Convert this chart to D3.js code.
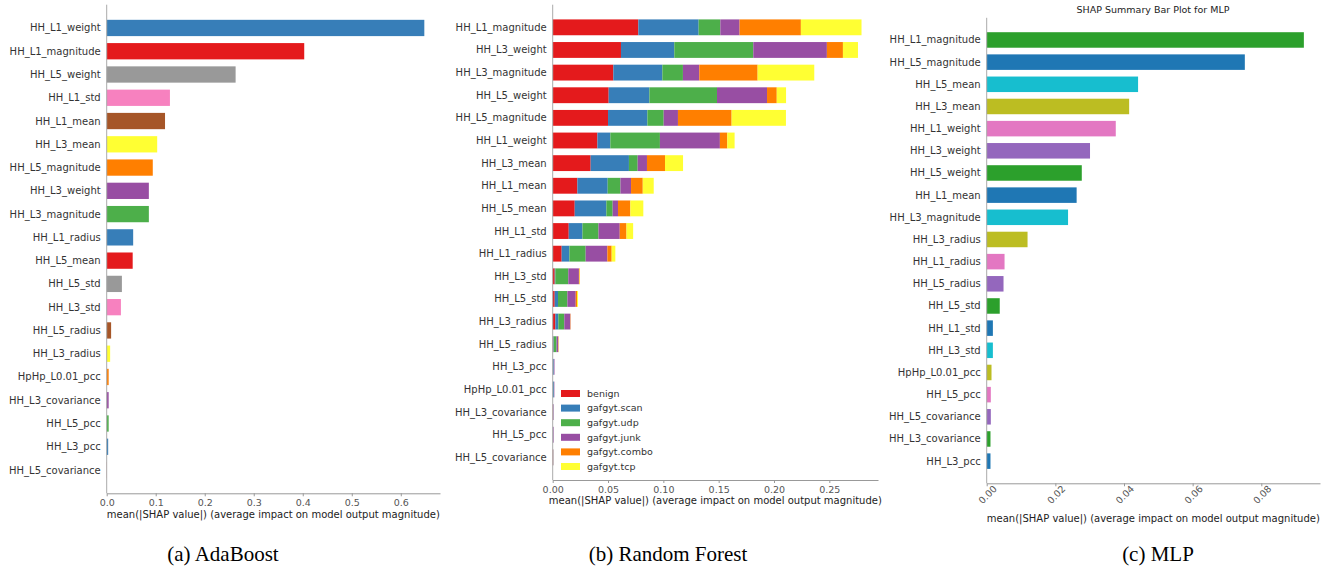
<!DOCTYPE html>
<html>
<head>
<meta charset="utf-8">
<script src="https://cdn.jsdelivr.net/npm/d3@7"></script>
<style>
  body { margin: 0; background: #fff; }
  svg { display: block; font-family: "DejaVu Sans", sans-serif; }
</style>
</head>
<body>
<svg id="chart" width="1337" height="571"></svg>
<script>
// ---------------- data ----------------
const featuresA = ["HH_L1_weight", "HH_L1_magnitude", "HH_L5_weight", "HH_L1_std", "HH_L1_mean",
  "HH_L3_mean", "HH_L5_magnitude", "HH_L3_weight", "HH_L3_magnitude", "HH_L1_radius",
  "HH_L5_mean", "HH_L5_std", "HH_L3_std", "HH_L5_radius", "HH_L3_radius",
  "HpHp_L0.01_pcc", "HH_L3_covariance", "HH_L5_pcc", "HH_L3_pcc", "HH_L5_covariance"];
const valuesA = [0.648, 0.403, 0.263, 0.129, 0.119, 0.103, 0.094, 0.086, 0.086, 0.054,
  0.053, 0.031, 0.029, 0.009, 0.007, 0.004, 0.004, 0.004, 0.003, 0.0003];
const ticksA = [0, 0.1, 0.2, 0.3, 0.4, 0.5, 0.6];

const featuresB = ["HH_L1_magnitude", "HH_L3_weight", "HH_L3_magnitude", "HH_L5_weight", "HH_L5_magnitude",
  "HH_L1_weight", "HH_L3_mean", "HH_L1_mean", "HH_L5_mean", "HH_L1_std",
  "HH_L1_radius", "HH_L3_std", "HH_L5_std", "HH_L3_radius", "HH_L5_radius",
  "HH_L3_pcc", "HpHp_L0.01_pcc", "HH_L3_covariance", "HH_L5_pcc", "HH_L5_covariance"];
const classesB = ["benign", "gafgyt.scan", "gafgyt.udp", "gafgyt.junk", "gafgyt.combo", "gafgyt.tcp"];
const benign = [0.0774, 0.0617, 0.0548, 0.0506, 0.0500, 0.0404, 0.0343, 0.0223, 0.0199, 0.0145,
  0.0081, 0.0018, 0.0018, 0.0024, 0.0005, 0.0001, 0.0001, 0.0003, 0.0001, 0.0004];
const scan = [0.0545, 0.0482, 0.0443, 0.0368, 0.0356, 0.0117, 0.0346, 0.0274, 0.0286, 0.0124,
  0.0070, 0.0006, 0.0030, 0.0027, 0.0005, 0.0008, 0.0009, 0.0001, 0.0002, 0.0001];
const udp = [0.0196, 0.0714, 0.0186, 0.0611, 0.0147, 0.0448, 0.0079, 0.0115, 0.0057, 0.0145,
  0.0147, 0.0117, 0.0085, 0.0054, 0.0025, 0.0001, 0.0001, 0.0001, 0.0001, 0.0001];
const junk = [0.0174, 0.0665, 0.0148, 0.0452, 0.0129, 0.0542, 0.0084, 0.0096, 0.0048, 0.0192,
  0.0196, 0.0096, 0.0075, 0.0054, 0.0015, 0.0006, 0.0004, 0.0004, 0.0005, 0.0001];
const combo = [0.0554, 0.0145, 0.0527, 0.0088, 0.0485, 0.0067, 0.0163, 0.0106, 0.0112, 0.0061,
  0.0039, 0.0006, 0.0012, 0.0003, 0.0003, 0, 0, 0, 0, 0];
const tcp = [0.0548, 0.0136, 0.0512, 0.0084, 0.0491, 0.0066, 0.0163, 0.0099, 0.0117, 0.0060,
  0.0033, 0.0003, 0.0009, 0, 0.0001, 0, 0, 0, 0, 0];
const ticksB = [0, 0.05, 0.10, 0.15, 0.20, 0.25];

const featuresC = ["HH_L1_magnitude", "HH_L5_magnitude", "HH_L5_mean", "HH_L3_mean", "HH_L1_weight",
  "HH_L3_weight", "HH_L5_weight", "HH_L1_mean", "HH_L3_magnitude", "HH_L3_radius",
  "HH_L1_radius", "HH_L5_radius", "HH_L5_std", "HH_L1_std", "HH_L3_std",
  "HpHp_L0.01_pcc", "HH_L5_pcc", "HH_L5_covariance", "HH_L3_covariance", "HH_L3_pcc"];
const valuesC = [0.0924, 0.0752, 0.0441, 0.0415, 0.0376, 0.0301, 0.0277, 0.0262, 0.0237, 0.0119,
  0.0052, 0.0049, 0.0038, 0.0018, 0.0018, 0.0014, 0.0012, 0.0012, 0.0011, 0.0011];
const ticksC = [0, 0.02, 0.04, 0.06, 0.08];

const xLabel = "mean(|SHAP value|) (average impact on model output magnitude)";
const captions = ["(a) AdaBoost", "(b) Random Forest", "(c) MLP"];

// ---------------- helpers ----------------
const svg = d3.select("#chart");
const setB = ["#e41a1c", "#377eb8", "#4daf4a", "#984ea3", "#ff7f00", "#ffff33"];
const paletteC = ["#1f77b4", "#2ca02c", "#9467bd", "#e377c2", "#bcbd22", "#17becf"];

function panel(p) {
  const g = svg.append("g");
  const n = p.features.length;
  const x = d3.scaleLinear().domain([0, p.xmax]).range([p.left, p.right]);
  const y = d3.scaleLinear().domain([-1, n]).range([p.top, p.bottom]);
  const bh = y(0.35) - y(-0.35);

  // feature labels
  g.selectAll(".ylab")
    .data(p.features)
    .join("text")
    .attr("x", p.left - 6)
    .attr("y", (d, i) => y(i))
    .attr("dy", "0.35em")
    .attr("text-anchor", "end")
    .style("font-size", "10px")
    .style("fill", "#333")
    .text(d => d);

  // bars
  p.drawBars(g, x, y, bh);

  // left spine
  g.append("line")
    .attr("x1", p.left).attr("x2", p.left)
    .attr("y1", y(-1)).attr("y2", y(n))
    .attr("stroke", "#aaa").attr("stroke-width", 1);

  // bottom axis
  const ax = g.append("g")
    .attr("transform", `translate(0,${y(n)})`)
    .call(d3.axisBottom(x).tickValues(p.ticks).tickSize(3).tickSizeOuter(0).tickFormat(p.fmt));
  ax.select(".domain").attr("stroke", "#999");
  ax.selectAll(".tick line").attr("stroke", "#999");
  ax.selectAll(".tick text")
    .style("font-family", "DejaVu Sans, sans-serif")
    .style("font-size", "9.5px")
    .style("fill", "#555");
  if (p.rotate) {
    ax.selectAll(".tick text")
      .attr("text-anchor", "end")
      .attr("dx", "0.3em")
      .attr("dy", "0.6em")
      .attr("transform", "rotate(-45)");
  }

  g.append("text")
    .attr("x", (p.left + p.right) / 2)
    .attr("y", p.labelY)
    .attr("text-anchor", "middle")
    .style("font-size", "10px")
    .style("fill", "#222")
    .text(xLabel);

  svg.append("text")
    .attr("x", p.capX)
    .attr("y", 561)
    .attr("text-anchor", "middle")
    .style("font-family", "Liberation Serif, Times New Roman, serif")
    .style("font-size", "21px")
    .style("fill", "#000")
    .text(p.caption);
  return { g, x, y };
}

// ---------------- (a) AdaBoost ----------------
panel({
  features: featuresA, ticks: ticksA, fmt: d3.format(".1f"),
  left: 106.7, right: 440, xmax: 0.680, top: 4.7, bottom: 493.3,
  labelY: 518, capX: 223, caption: captions[0],
  drawBars: (g, x, y, bh) => {
    g.selectAll(".bar")
      .data(valuesA)
      .join("rect")
      .attr("x", x(0))
      .attr("y", (d, i) => y(i) - bh / 2)
      .attr("width", d => x(d) - x(0))
      .attr("height", bh)
      .attr("fill", (d, i) => d3.schemeSet1[(valuesA.length - 1 - i) % 9]);
  }
});

// ---------------- (b) Random Forest ----------------
const stackRows = featuresB.map((f, i) => ({
  feature: f,
  "benign": benign[i], "gafgyt.scan": scan[i], "gafgyt.udp": udp[i],
  "gafgyt.junk": junk[i], "gafgyt.combo": combo[i], "gafgyt.tcp": tcp[i]
}));
const stacked = d3.stack().keys(classesB)(stackRows);
const colorB = d3.scaleOrdinal().domain(classesB).range(setB);

const pb = panel({
  features: featuresB, ticks: ticksB, fmt: d3.format(".2f"),
  left: 552.7, right: 878, xmax: 0.294, top: 4.7, bottom: 480,
  labelY: 504, capX: 668, caption: captions[1],
  drawBars: (g, x, y, bh) => {
    g.selectAll(".layer")
      .data(stacked)
      .join("g")
      .attr("fill", d => colorB(d.key))
      .selectAll("rect")
      .data(d => d)
      .join("rect")
      .attr("x", d => x(d[0]))
      .attr("y", (d, i) => y(i) - bh / 2)
      .attr("width", d => Math.max(0, x(d[1]) - x(d[0])))
      .attr("height", bh);
  }
});

const legend = svg.append("g").attr("transform", "translate(561,390)");
classesB.forEach((k, i) => {
  const lg = legend.append("g").attr("transform", `translate(0,${i * 14.6})`);
  lg.append("rect").attr("width", 19).attr("height", 7).attr("fill", colorB(k));
  lg.append("text")
    .attr("x", 26).attr("y", 3.5).attr("dy", "0.35em")
    .style("font-size", "9.5px").style("fill", "#333")
    .text(k);
});

// ---------------- (c) MLP ----------------
panel({
  features: featuresC, ticks: ticksC, fmt: d3.format(".2f"), rotate: true,
  left: 986.7, right: 1320, xmax: 0.0971, top: 17.8, bottom: 483.3,
  labelY: 522, capX: 1158, caption: captions[2],
  drawBars: (g, x, y, bh) => {
    g.selectAll(".bar")
      .data(valuesC)
      .join("rect")
      .attr("x", x(0))
      .attr("y", (d, i) => y(i) - bh / 2)
      .attr("width", d => x(d) - x(0))
      .attr("height", bh)
      .attr("fill", (d, i) => paletteC[(valuesC.length - 1 - i) % 6]);
  }
});

svg.append("text")
  .attr("x", 1153)
  .attr("y", 13)
  .attr("text-anchor", "middle")
  .style("font-size", "9.5px")
  .style("fill", "#222")
  .text("SHAP Summary Bar Plot for MLP");
</script>
</body>
</html>
